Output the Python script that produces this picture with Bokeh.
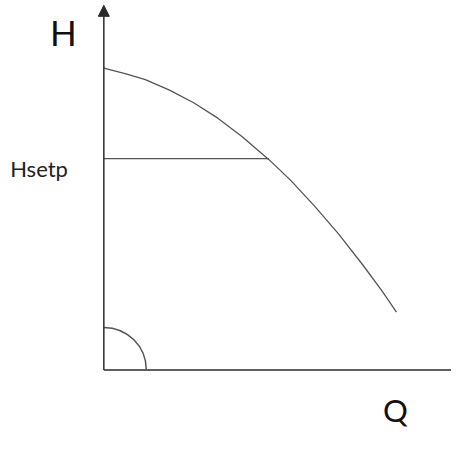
import math
from bokeh.plotting import figure
from bokeh.models import Range1d, Arrow, NormalHead, Label
from bokeh.embed import file_html
from bokeh.resources import INLINE

# Pump curve (flow Q vs head H) (arbitrary units)
q_curve = [0, 23, 43, 68, 93, 118, 143, 171, 193, 218, 243, 268, 288, 303]
h_curve = [313, 307, 301, 290, 277, 261, 242, 218, 197, 170, 141, 109, 82, 60]
h_setp = 219          # setpoint head
q_setp = 171          # flow where setpoint meets the curve
angle_radius = 44     # quarter-circle marker at the origin
axis_labels = ["H", "Q"]
setp_label = "Hsetp"

W, H = 451, 434
p = figure(width=W, height=H, output_backend="svg", toolbar_location=None,
           x_range=Range1d(-107, 360), y_range=Range1d(-67, 383),
           min_border=0, border_fill_color="white")
p.axis.visible = False
p.grid.visible = False
p.outline_line_color = None

axis_col = "#2b2b2b"
curve_col = "#555555"

# x axis
p.line(x=[0, 360], y=[0, 0], line_color=axis_col, line_width=1.5)
# y axis with arrow
p.add_layout(Arrow(x_start=0, y_start=0, x_end=0, y_end=378,
                   line_color=axis_col, line_width=1.5,
                   end=NormalHead(size=11, fill_color=axis_col, line_color=axis_col)))

# pump curve
p.line(x=q_curve, y=h_curve, line_color=curve_col, line_width=1.3)
# setpoint line
p.line(x=[0, q_setp], y=[h_setp, h_setp], line_color=curve_col, line_width=1.3)
# quarter circle at origin
p.arc(x=[0], y=[0], radius=angle_radius,
      start_angle=0, end_angle=math.pi / 2, line_color=curve_col, line_width=1.5)

font = "Lato"
p.add_layout(Label(x=-42, y=350, text=axis_labels[0], text_font=font,
                   text_font_size="35px", text_align="center",
                   text_baseline="alphabetic", text_color="#111111"))
p.add_layout(Label(x=302, y=-42, text=axis_labels[1], text_font=font,
                   text_font_size="31px", text_align="center",
                   text_baseline="middle", text_color="#111111"))
p.add_layout(Label(x=-97, y=209, text=setp_label, text_font=font,
                   text_font_size="22px", text_align="left",
                   text_baseline="alphabetic", text_color="#222222"))

open("out.html", "w").write(file_html(p, INLINE))
